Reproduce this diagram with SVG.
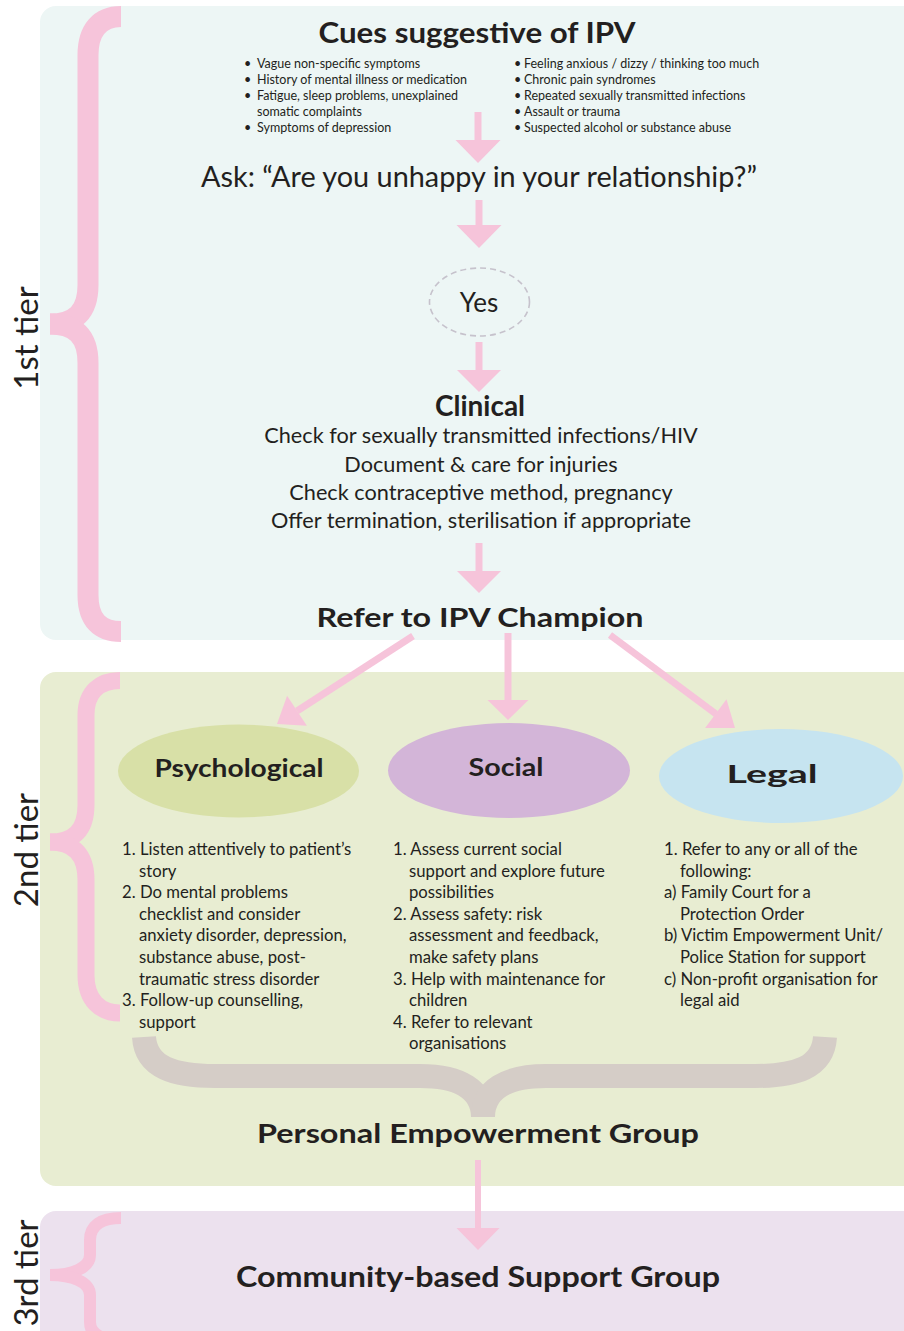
<svg xmlns="http://www.w3.org/2000/svg" width="904" height="1331" viewBox="0 0 904 1331">
<style>
.t{font-family:Lato,"Noto Sans",sans-serif;fill:#231f20}
.b{font-weight:700}
.c{text-anchor:middle}
.bl{font-size:12.5px}
.li{font-size:16.7px}
.cl{font-size:21.7px}
.tier{font-size:33px}
.ar{fill:#f6c4da;stroke:none}
.sh{stroke:#f6c4da;fill:none}
.brace{fill:none;stroke:#f6c4da;stroke-linecap:butt}
.gbrace{fill:none;stroke:#d5cdc7;stroke-linecap:butt;stroke-width:24}
</style>
<rect width="904" height="1331" fill="#ffffff"/>
<g id="panels">
<rect id="tier1-panel" x="40" y="6" width="900" height="634" rx="16" fill="#edf6f5"/>
<rect id="tier2-panel" x="40" y="672" width="900" height="514" rx="16" fill="#e8edd2"/>
<rect id="tier3-panel" x="40" y="1211" width="900" height="160" rx="16" fill="#ece1ee"/>
</g>
<g id="braces">
<path class="brace" stroke-width="21" d="M121,16.5 C100,16.5 88,30 88,55 L88,285 C88,312 75,324 50,324"/>
<path class="brace" stroke-width="21" d="M50,324 C75,324 88,336 88,363 L88,595 C88,620 100,631.5 121,631.5"/>
<path class="brace" stroke-width="17" d="M120,680.5 C100,680.5 86,692 86,715 L86,805 C86,830 74,842 50,842"/>
<path class="brace" stroke-width="17" d="M50,842 C74,842 86,855 86,880 L86,975 C86,1000 100,1013 120,1013"/>
<path class="brace" stroke-width="12" d="M121,1218 C100,1218 90,1226 90,1240 L90,1255 C90,1268 72,1275 50,1275"/>
<path class="brace" stroke-width="12" d="M50,1275 C72,1275 90,1282 90,1295 L90,1322 C90,1334 100,1340 121,1340"/>
<path class="gbrace" d="M144,1037 C146,1068 175,1076 215,1076 L420,1076 C460,1076 483,1090 483,1117"/>
<path class="gbrace" d="M825,1037 C823,1068 795,1076 755,1076 L546,1076 C506,1076 483,1090 483,1117"/>
</g>
<g id="tier-labels">
<text class="t tier c" transform="translate(38,338) rotate(-90)">1st tier</text>
<text class="t tier c" transform="translate(38,850) rotate(-90)">2nd tier</text>
<text class="t tier c" transform="translate(38,1273) rotate(-90)">3rd tier</text>
</g>
<g id="connectors">
<g id="a1"><path class="sh" stroke-width="7" d="M478,112 V141"/><path class="ar" d="M455.5,140 H500.5 L478,163 Z"/></g>
<g id="a2"><path class="sh" stroke-width="7" d="M479,200 V226"/><path class="ar" d="M456.5,225 H501.5 L479,248 Z"/></g>
<g id="a3"><path class="sh" stroke-width="7" d="M479,342 V371"/><path class="ar" d="M457,370 H501 L479,392 Z"/></g>
<g id="a4"><path class="sh" stroke-width="7" d="M479,543 V572"/><path class="ar" d="M457,571 H501 L479,593 Z"/></g>
<g id="a5"><path class="sh" stroke-width="7" d="M413,636 L297,711"/><path class="ar" d="M277,724 L287.1,695.8 L306.9,725.8 Z"/></g>
<g id="a6"><path class="sh" stroke-width="7" d="M508,633 V701"/><path class="ar" d="M487.5,700 H528.5 L508,720 Z"/></g>
<g id="a7"><path class="sh" stroke-width="7" d="M610,635 L716,714"/><path class="ar" d="M735,728 L705.1,728.1 L726.5,699.3 Z"/></g>
<g id="a8"><path class="sh" stroke-width="6" d="M478,1160 V1229"/><path class="ar" d="M456.5,1228 H499.5 L478,1250 Z"/></g>
</g>
<g id="cues">
<text class="t b c" x="477" y="43" font-size="29" textLength="317" lengthAdjust="spacingAndGlyphs">Cues suggestive of IPV</text>
<g class="t bl">
<text x="244" y="68">•</text><text x="257" y="68">Vague non-specific symptoms</text>
<text x="244" y="84">•</text><text x="257" y="84">History of mental illness or medication</text>
<text x="244" y="100">•</text><text x="257" y="100">Fatigue, sleep problems, unexplained</text>
<text x="257" y="116">somatic complaints</text>
<text x="244" y="131.5">•</text><text x="257" y="131.5">Symptoms of depression</text>
<text x="514" y="68">•</text><text x="524" y="68">Feeling anxious / dizzy / thinking too much</text>
<text x="514" y="84">•</text><text x="524" y="84">Chronic pain syndromes</text>
<text x="514" y="100">•</text><text x="524" y="100">Repeated sexually transmitted infections</text>
<text x="514" y="116">•</text><text x="524" y="116">Assault or trauma</text>
<text x="514" y="131.5">•</text><text x="524" y="131.5">Suspected alcohol or substance abuse</text>
</g>
</g>
<g id="ask">
<text class="t c" x="479" y="187" font-size="28" textLength="556" lengthAdjust="spacingAndGlyphs">Ask: “Are you unhappy in your relationship?”</text>
</g>
<g id="yes">
<ellipse cx="479.5" cy="302" rx="50" ry="34" fill="none" stroke="#c6c2cc" stroke-width="1.6" stroke-dasharray="6 4"/>
<text class="t c" x="479" y="312" font-size="26">Yes</text>
</g>
<g id="clinical">
<text class="t b c" x="480" y="416" font-size="28">Clinical</text>
<g class="t cl c">
<text x="481" y="443">Check for sexually transmitted infections/HIV</text>
<text x="481" y="472">Document &amp; care for injuries</text>
<text x="481" y="500">Check contraceptive method, pregnancy</text>
<text x="481" y="528">Offer termination, sterilisation if appropriate</text>
</g>
</g>
<g id="champion">
<text class="t b c" x="480" y="627" font-size="26" textLength="327" lengthAdjust="spacingAndGlyphs">Refer to IPV Champion</text>
</g>
<g id="psychological">
<ellipse cx="238.5" cy="771" rx="120.5" ry="46.5" fill="#d8e0a7"/>
<text class="t b c" x="239" y="777" font-size="24" textLength="169" lengthAdjust="spacingAndGlyphs">Psychological</text>
<text class="t li">
<tspan x="122" y="855">1. Listen attentively to patient’s</tspan>
<tspan x="139" y="876.6">story</tspan>
<tspan x="122" y="898.2">2. Do mental problems</tspan>
<tspan x="139" y="919.8">checklist and consider</tspan>
<tspan x="139" y="941.4">anxiety disorder, depression,</tspan>
<tspan x="139" y="963">substance abuse, post-</tspan>
<tspan x="139" y="984.6">traumatic stress disorder</tspan>
<tspan x="122" y="1006.2">3. Follow-up counselling,</tspan>
<tspan x="139" y="1027.8">support</tspan>
</text>
</g>
<g id="social">
<ellipse cx="509" cy="770.5" rx="121" ry="47.5" fill="#d3b5d8"/>
<text class="t b c" x="506" y="776" font-size="24" textLength="75" lengthAdjust="spacingAndGlyphs">Social</text>
<text class="t li">
<tspan x="393" y="855">1. Assess current social</tspan>
<tspan x="409" y="876.6">support and explore future</tspan>
<tspan x="409" y="898.2">possibilities</tspan>
<tspan x="393" y="919.8">2. Assess safety: risk</tspan>
<tspan x="409" y="941.4">assessment and feedback,</tspan>
<tspan x="409" y="963">make safety plans</tspan>
<tspan x="393" y="984.6">3. Help with maintenance for</tspan>
<tspan x="409" y="1006.2">children</tspan>
<tspan x="393" y="1027.8">4. Refer to relevant</tspan>
<tspan x="409" y="1049.4">organisations</tspan>
</text>
</g>
<g id="legal">
<ellipse cx="781" cy="776" rx="122" ry="47" fill="#c6e4f0"/>
<text class="t b c" x="772" y="783" font-size="24" textLength="91" lengthAdjust="spacingAndGlyphs">Legal</text>
<text class="t li">
<tspan x="664" y="855">1. Refer to any or all of the</tspan>
<tspan x="680" y="876.6">following:</tspan>
<tspan x="664" y="898.2">a) Family Court for a</tspan>
<tspan x="680" y="919.8">Protection Order</tspan>
<tspan x="664" y="941.4">b) Victim Empowerment Unit/</tspan>
<tspan x="680" y="963">Police Station for support</tspan>
<tspan x="664" y="984.6">c) Non-profit organisation for</tspan>
<tspan x="680" y="1006.2">legal aid</tspan>
</text>
</g>
<g id="personal-empowerment">
<text class="t b c" x="478" y="1143" font-size="27" textLength="442" lengthAdjust="spacingAndGlyphs">Personal Empowerment Group</text>
</g>
<g id="community">
<text class="t b c" x="478" y="1287" font-size="28" textLength="484" lengthAdjust="spacingAndGlyphs">Community-based Support Group</text>
</g>
</svg>
